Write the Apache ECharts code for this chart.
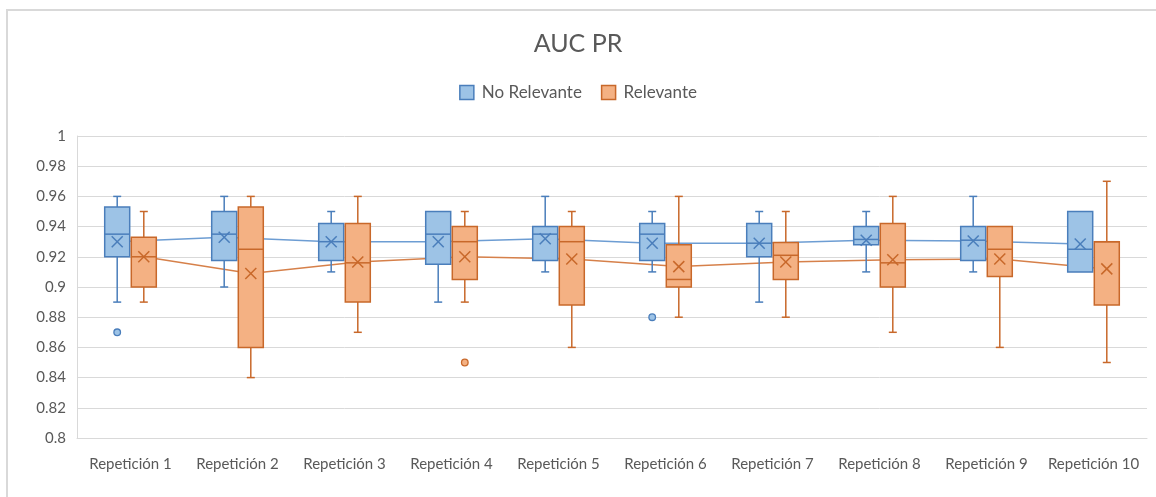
<!DOCTYPE html>
<html>
<head>
<meta charset="utf-8">
<script src="https://cdn.jsdelivr.net/npm/echarts@6/dist/echarts.min.js"></script>
<style>html,body{margin:0;padding:0;background:#fff;}#c{width:1156px;height:497px;}</style>
</head>
<body>
<div id="c"></div>
<script>
const categories = ['Repetición 1','Repetición 2','Repetición 3','Repetición 4','Repetición 5','Repetición 6','Repetición 7','Repetición 8','Repetición 9','Repetición 10'];
const yTicks = { min: 0.8, max: 1, interval: 0.02 };

// No Relevante
const noRelMin  = [0.89, 0.90, 0.91, 0.89, 0.91, 0.91, 0.89, 0.91, 0.91, 0.91];
const noRelQ1   = [0.92, 0.9175, 0.9175, 0.915, 0.9175, 0.9175, 0.92, 0.928, 0.9175, 0.91];
const noRelMed  = [0.935, 0.935, 0.930, 0.935, 0.935, 0.935, 0.929, 0.9315, 0.931, 0.925];
const noRelQ3   = [0.953, 0.95, 0.942, 0.95, 0.94, 0.942, 0.942, 0.94, 0.94, 0.95];
const noRelMax  = [0.96, 0.96, 0.95, 0.95, 0.96, 0.95, 0.95, 0.95, 0.96, 0.95];
const noRelMean = [0.930, 0.933, 0.930, 0.930, 0.932, 0.929, 0.929, 0.931, 0.9305, 0.9285];
const noRelOutliers = [[0, 0.87], [5, 0.88]];

// Relevante
const relMin  = [0.89, 0.84, 0.87, 0.89, 0.86, 0.88, 0.88, 0.87, 0.86, 0.85];
const relQ1   = [0.90, 0.86, 0.89, 0.905, 0.888, 0.90, 0.905, 0.90, 0.907, 0.888];
const relMed  = [0.92, 0.925, 0.916, 0.93, 0.93, 0.905, 0.921, 0.916, 0.925, 0.93];
const relQ3   = [0.933, 0.953, 0.942, 0.94, 0.94, 0.928, 0.9295, 0.942, 0.94, 0.93];
const relMax  = [0.95, 0.96, 0.96, 0.95, 0.95, 0.96, 0.95, 0.96, 0.94, 0.97];
const relMean = [0.920, 0.909, 0.9165, 0.920, 0.9185, 0.9135, 0.9165, 0.918, 0.9185, 0.912];
const relOutliers = [[3, 0.85]];

const BLUE_FILL = '#9dc3e6', BLUE_LINE = '#4a7ebb', BLUE_MEAN = '#6d9dd3';
const OR_FILL = '#f4b183', OR_LINE = '#c8682a', OR_MEAN = '#d6804a';
const OFF = 13.3;
const FONT = 'Lato';

function boxRows(mn, q1, md, q3, mx, mean) {
  return categories.map((c, i) => [i, mn[i], q1[i], md[i], q3[i], mx[i], mean[i]]);
}
function lineRows(mean) {
  return categories.map((c, i) => [i, mean[i], i + 1 < categories.length ? mean[i + 1] : mean[i]]);
}

function boxRender(off, fill, stroke) {
  return function (params, api) {
    const i = api.value(0);
    const cx = api.coord([i, api.value(1)])[0] + off;
    const y = d => api.coord([i, api.value(d)])[1];
    const yMin = y(1), yQ1 = y(2), yMed = y(3), yQ3 = y(4), yMax = y(5), yMean = y(6);
    const hw = 12.5, cap = 4, xs = 5.5;
    const ls = { stroke: stroke, lineWidth: 1.5, fill: null };
    const ch = [];
    if (yMax < yQ3 - 0.5) {
      ch.push({ type: 'line', shape: { x1: cx, y1: yQ3, x2: cx, y2: yMax }, style: ls });
      ch.push({ type: 'line', shape: { x1: cx - cap, y1: yMax, x2: cx + cap, y2: yMax }, style: ls });
    }
    if (yMin > yQ1 + 0.5) {
      ch.push({ type: 'line', shape: { x1: cx, y1: yQ1, x2: cx, y2: yMin }, style: ls });
      ch.push({ type: 'line', shape: { x1: cx - cap, y1: yMin, x2: cx + cap, y2: yMin }, style: ls });
    }
    ch.push({ type: 'rect', shape: { x: cx - hw, y: yQ3, width: 2 * hw, height: yQ1 - yQ3 }, style: { fill: fill, stroke: stroke, lineWidth: 1.5 } });
    ch.push({ type: 'line', shape: { x1: cx - hw, y1: yMed, x2: cx + hw, y2: yMed }, style: ls });
    ch.push({ type: 'line', shape: { x1: cx - xs, y1: yMean - xs, x2: cx + xs, y2: yMean + xs }, style: ls });
    ch.push({ type: 'line', shape: { x1: cx - xs, y1: yMean + xs, x2: cx + xs, y2: yMean - xs }, style: ls });
    return { type: 'group', children: ch };
  };
}
function lineRender(off, color) {
  return function (params, api) {
    const i = api.value(0);
    if (i + 1 >= categories.length) return { type: 'group', children: [] };
    const p1 = api.coord([i, api.value(1)]);
    const p2 = api.coord([i + 1, api.value(2)]);
    return { type: 'line', shape: { x1: p1[0] + off, y1: p1[1], x2: p2[0] + off, y2: p2[1] }, style: { stroke: color, lineWidth: 1.5, fill: null } };
  };
}
function outRender(off, fill, stroke) {
  return function (params, api) {
    const p = api.coord([api.value(0), api.value(1)]);
    return { type: 'circle', shape: { cx: p[0] + off, cy: p[1], r: 3.3 }, style: { fill: fill, stroke: stroke, lineWidth: 1.3 } };
  };
}

const chart = echarts.init(document.getElementById('c'), null, { renderer: 'canvas' });
chart.setOption({
  animation: false,
  backgroundColor: '#ffffff',
  textStyle: { fontFamily: FONT },
  graphic: [{ type: 'rect', shape: { x: 7, y: 10, width: 1300, height: 700 }, style: { fill: null, stroke: '#d9d9d9', lineWidth: 2 }, silent: true }],
  title: { text: 'AUC PR', left: 'center', top: 26, textStyle: { fontFamily: FONT, fontSize: 25, fontWeight: 'normal', color: '#595959' } },
  legend: {
    top: 79, left: 'center', icon: 'rect', itemWidth: 14, itemHeight: 14, itemGap: 19,
    textStyle: { fontFamily: FONT, fontSize: 17, color: '#595959', padding: [0, 0, 0, 3] },
    data: [
      { name: 'No Relevante', itemStyle: { color: BLUE_FILL, borderColor: BLUE_LINE, borderWidth: 1.5 } },
      { name: 'Relevante', itemStyle: { color: OR_FILL, borderColor: OR_LINE, borderWidth: 1.5 } }
    ]
  },
  grid: { left: 77, width: 1070, top: 136, height: 302 },
  xAxis: {
    type: 'category', data: categories,
    axisLine: { show: true, lineStyle: { color: '#d9d9d9', width: 1 } },
    axisTick: { show: false },
    axisLabel: { fontFamily: FONT, fontSize: 15, color: '#595959', margin: 19, interval: 0 }
  },
  yAxis: {
    type: 'value', min: yTicks.min, max: yTicks.max, interval: yTicks.interval,
    axisLine: { show: true, lineStyle: { color: '#d9d9d9', width: 1 } },
    axisTick: { show: false },
    splitLine: { lineStyle: { color: '#d9d9d9', width: 1 } },
    axisLabel: { fontFamily: FONT, fontSize: 15, color: '#595959', margin: 11, formatter: v => String(+v.toFixed(2)) }
  },
  series: [
    { type: 'custom', name: 'lineNo', z: 1, renderItem: lineRender(-OFF, BLUE_MEAN), data: lineRows(noRelMean), encode: { x: 0, y: [1, 2] } },
    { type: 'custom', name: 'lineRel', z: 1, renderItem: lineRender(OFF, OR_MEAN), data: lineRows(relMean), encode: { x: 0, y: [1, 2] } },
    { type: 'custom', name: 'No Relevante', z: 2, itemStyle: { color: BLUE_FILL, borderColor: BLUE_LINE }, renderItem: boxRender(-OFF, BLUE_FILL, BLUE_LINE), data: boxRows(noRelMin, noRelQ1, noRelMed, noRelQ3, noRelMax, noRelMean), encode: { x: 0, y: [1, 2, 3, 4, 5, 6] } },
    { type: 'custom', name: 'Relevante', z: 2, itemStyle: { color: OR_FILL, borderColor: OR_LINE }, renderItem: boxRender(OFF, OR_FILL, OR_LINE), data: boxRows(relMin, relQ1, relMed, relQ3, relMax, relMean), encode: { x: 0, y: [1, 2, 3, 4, 5, 6] } },
    { type: 'custom', name: 'outNo', z: 3, renderItem: outRender(-OFF, BLUE_FILL, BLUE_LINE), data: noRelOutliers, encode: { x: 0, y: 1 } },
    { type: 'custom', name: 'outRel', z: 3, renderItem: outRender(OFF, OR_FILL, OR_LINE), data: relOutliers, encode: { x: 0, y: 1 } }
  ]
});
</script>
</body>
</html>
